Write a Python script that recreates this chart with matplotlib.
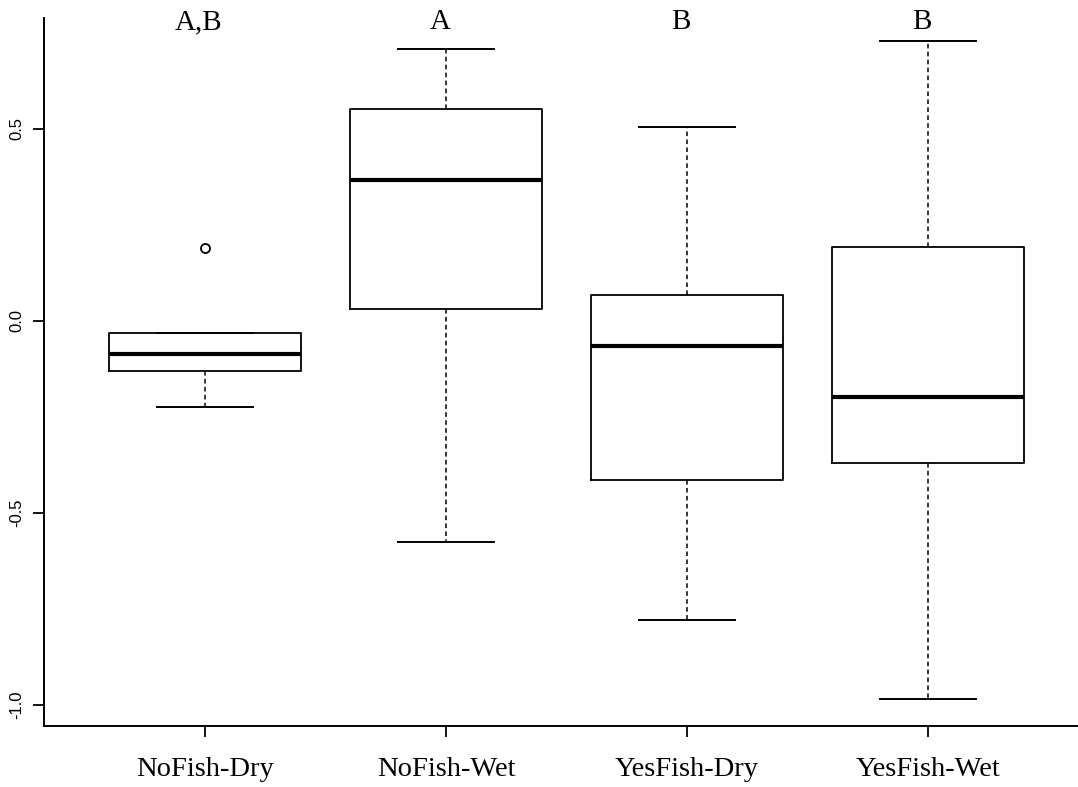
import matplotlib
matplotlib.use("Agg")
import matplotlib.pyplot as plt

# groups and significance letters
groups = ["NoFish-Dry", "NoFish-Wet", "YesFish-Dry", "YesFish-Wet"]
letters = ["A,B", "A", "B", "B"]

# box statistics
whislo = [-0.224, -0.575, -0.779, -0.985]
q1 = [-0.130, 0.030, -0.415, -0.371]
med = [-0.087, 0.366, -0.065, -0.199]
q3 = [-0.031, 0.552, 0.067, 0.192]
whishi = [-0.031, 0.706, 0.503, 0.729]
fliers = [[0.188], [], [], []]

yticks = [-1.0, -0.5, 0.0, 0.5]
ytick_labels = ["-1.0", "-0.5", "0.0", "0.5"]


def main():
    fig = plt.figure(figsize=(10.78, 7.87), dpi=100)
    ax = fig.add_axes([0.0404, 0.0775, 0.9596, 0.8996])

    stats = []
    for i in range(len(groups)):
        stats.append(dict(whislo=whislo[i], q1=q1[i], med=med[i], q3=q3[i],
                          whishi=whishi[i], fliers=fliers[i], label=groups[i]))

    pos = list(range(1, len(groups) + 1))
    ax.bxp(stats, positions=pos, widths=0.8, capwidths=0.4,
           boxprops=dict(color="black", linewidth=1.3),
           medianprops=dict(color="black", linewidth=3.0, solid_capstyle="butt"),
           whiskerprops=dict(color="black", linewidth=1.1, linestyle=(0, (3, 2.2))),
           capprops=dict(color="black", linewidth=1.4),
           flierprops=dict(marker="o", markersize=6.5, markerfacecolor="none",
                           markeredgecolor="black", markeredgewidth=1.3))

    # letters above each group (placed by hand in the original, slightly left)
    for p, t in zip(pos, letters):
        ax.text(p - 0.025, 0.758, t, ha="center", va="baseline", fontsize=21,
                family="Liberation Serif", clip_on=False)

    ax.set_xlim(0.33, 4.622)
    ax.set_ylim(-1.0544, 0.7875)

    ax.spines["top"].set_visible(False)
    ax.spines["right"].set_visible(False)
    ax.spines["left"].set_linewidth(1.4)
    ax.spines["bottom"].set_linewidth(1.4)

    ax.set_xticks(pos)
    ax.set_xticklabels(groups, family="Liberation Serif", fontsize=20.5)
    ax.set_yticks(yticks)
    ax.set_yticklabels(ytick_labels, family="Liberation Sans", fontsize=12,
                       rotation=90, va="center")
    ax.tick_params(axis="both", length=8, width=1.3, color="black")
    ax.tick_params(axis="x", pad=14)
    ax.tick_params(axis="y", pad=6)

    fig.savefig("out.png", dpi=100)


if __name__ == "__main__":
    main()
